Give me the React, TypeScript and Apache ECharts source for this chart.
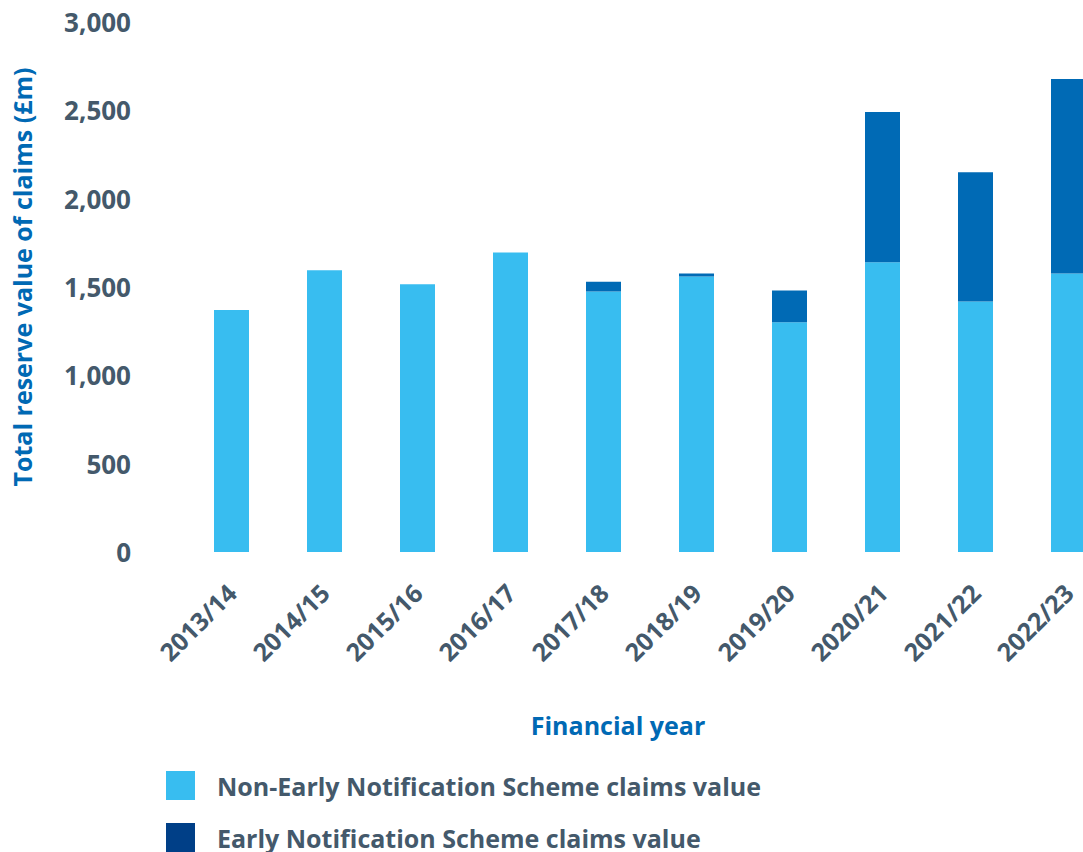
import React, { useEffect, useRef } from "react";
import * as echarts from "echarts";

const categories = ["2013/14", "2014/15", "2015/16", "2016/17", "2017/18", "2018/19", "2019/20", "2020/21", "2021/22", "2022/23"];
const nonEnsValues = [1370, 1595, 1515, 1695, 1475, 1560, 1300, 1640, 1418, 1577];
const ensValues = [0, 0, 0, 0, 55, 17, 180, 850, 731, 1100];
const yTicks = [0, 500, 1000, 1500, 2000, 2500, 3000];

const NON_ENS = "Non-Early Notification Scheme claims value";
const ENS = "Early Notification Scheme claims value";

const FONT = "'Open Sans', 'Noto Sans', sans-serif";
const GREY = "#44596b";
const BLUE = "#0069b4";

export default function App() {
  const ref = useRef<HTMLDivElement>(null);
  useEffect(() => {
    if (!ref.current) return;
    const chart = echarts.init(ref.current, undefined, { renderer: "svg" });
    const legendText = { fontFamily: FONT, fontWeight: "bold", fontSize: 25, color: GREY, padding: [0, 0, 0, 17] };
    chart.setOption({
      animation: false,
      grid: { left: 185, width: 930, top: 22, height: 530, containLabel: false, outerBoundsMode: "none" },
      legend: [
        {
          left: 166,
          top: 771,
          padding: 0,
          itemWidth: 29,
          itemHeight: 29,
          icon: "rect",
          textStyle: legendText,
          data: [{ name: NON_ENS, itemStyle: { color: "#38bdf0" } }],
        },
        {
          left: 166,
          top: 823,
          padding: 0,
          itemWidth: 29,
          itemHeight: 29,
          icon: "rect",
          textStyle: legendText,
          data: [{ name: ENS, itemStyle: { color: "#003f87" } }],
        },
      ],
      graphic: [
        {
          type: "text",
          x: 618,
          y: 725,
          style: {
            text: "Financial year",
            fontFamily: FONT,
            fontWeight: "bold",
            fontSize: 25,
            fill: BLUE,
            textAlign: "center",
            textVerticalAlign: "middle",
          },
        },
        {
          type: "text",
          x: 22,
          y: 277,
          rotation: Math.PI / 2,
          style: {
            text: "Total reserve value of claims (£m)",
            fontFamily: FONT,
            fontWeight: "bold",
            fontSize: 25,
            fill: BLUE,
            textAlign: "center",
            textVerticalAlign: "middle",
          },
        },
      ],
      xAxis: {
        type: "category",
        data: categories,
        axisLine: { show: false },
        axisTick: { show: false },
        axisLabel: {
          rotate: 45,
          margin: 36,
          fontFamily: FONT,
          fontWeight: "bold",
          fontSize: 25,
          color: GREY,
          interval: 0,
        },
      },
      yAxis: {
        type: "value",
        min: yTicks[0],
        max: yTicks[yTicks.length - 1],
        interval: 500,
        splitLine: { show: false },
        axisLine: { show: false },
        axisTick: { show: false },
        axisLabel: {
          margin: 54,
          fontFamily: FONT,
          fontWeight: "bold",
          fontSize: 26,
          color: GREY,
          formatter: (v: number) => v.toLocaleString("en-GB"),
        },
      },
      series: [
        {
          name: NON_ENS,
          type: "bar",
          stack: "total",
          data: nonEnsValues,
          barWidth: 35,
          itemStyle: { color: "#38bdf0" },
        },
        {
          name: ENS,
          type: "bar",
          stack: "total",
          data: ensValues,
          barWidth: 35,
          itemStyle: { color: "#006ab5" },
        },
      ],
    });
    return () => chart.dispose();
  }, []);
  return <div ref={ref} style={{ position: "absolute", left: 0, top: 0, width: 1083, height: 852 }} />;
}
